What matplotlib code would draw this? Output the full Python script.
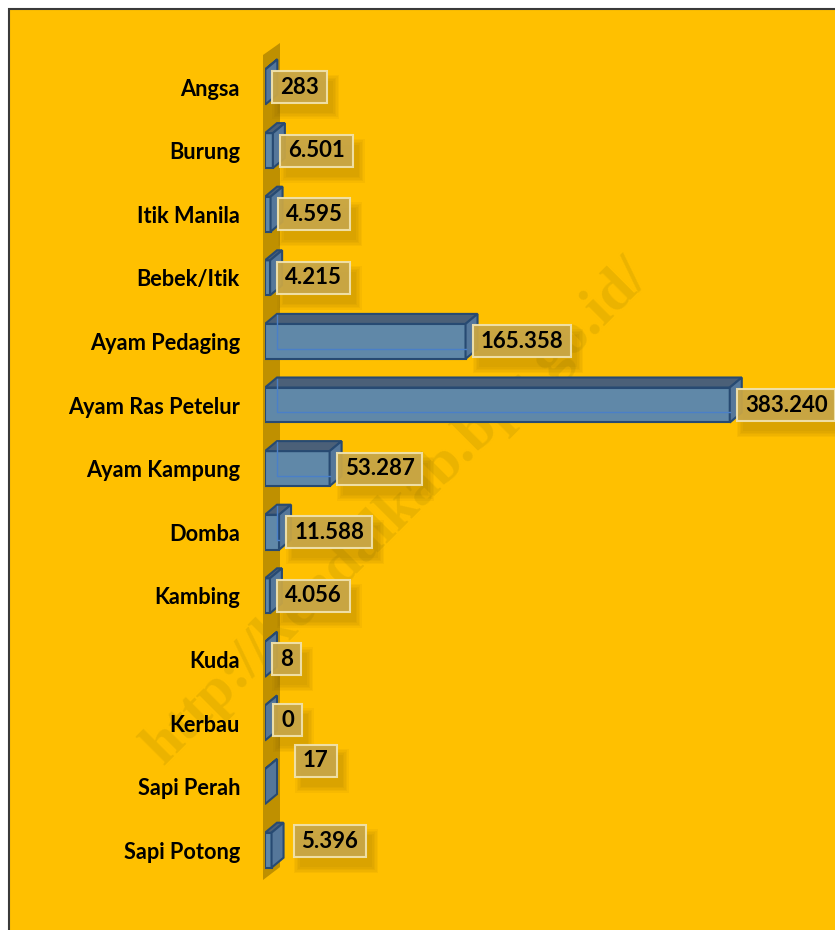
import matplotlib
matplotlib.use("Agg")
import matplotlib.pyplot as plt
from matplotlib.patches import Rectangle, Polygon
from matplotlib.transforms import IdentityTransform

# ---- data ----
categories = ["Angsa", "Burung", "Itik Manila", "Bebek/Itik", "Ayam Pedaging",
              "Ayam Ras Petelur", "Ayam Kampung", "Domba", "Kambing", "Kuda",
              "Kerbau", "Sapi Perah", "Sapi Potong"]
values = [283, 6501, 4595, 4215, 165358, 383240, 53287, 11588, 4056, 8, 0, 17, 5396]
watermark = "http://kendalkab.bps.go.id/"

# ---- style ----
W, H = 835, 930
DPI = 100
FONT = "Lato"
BG = "#FFC000"
WALL = "#BF9000"
FRONT = "#6088A8"
TOP = "#4B6078"
SIDE = "#55779A"
EDGE = "#274A72"
BACKEDGE = "#4A7FC8"
BOXFC = "#C8A646"
BOXEC = "#F1E2AC"

fig = plt.figure(figsize=(W / DPI, H / DPI), dpi=DPI)
fig.patch.set_facecolor("white")
fig.patches.append(Rectangle((8.5 / W, -0.05), 1.1, (H - 8.5) / H + 0.05,
                             transform=fig.transFigure, facecolor=BG,
                             edgecolor="#3a3a3a", lw=1.5, zorder=-5))

ax_left_px, ax_right_px = 265, 835
ax = fig.add_axes([ax_left_px / W, 0, (ax_right_px - ax_left_px) / W, 1])
ax.set_facecolor("none")
XMAX = 470000
ax.set_xlim(0, XMAX)
y_first_px, step_px = 87, 63.6
ax.set_ylim((H - y_first_px) / step_px, -y_first_px / step_px)
for s in ax.spines.values():
    s.set_visible(False)
ax.set_xticks([])

px_x = XMAX / (ax_right_px - ax_left_px)   # data units per pixel (x)
px_y = 1 / step_px                          # data units per pixel (y)

# watermark (behind bars)
ax.text(397 / W, 1 - 512 / H, watermark, transform=fig.transFigure, rotation=45,
        ha="center", va="center", fontsize=43, family="Liberation Serif",
        weight="bold", color="#EBB300", zorder=1, clip_on=False)

# back wall
def py(p):
    return (p - y_first_px) / step_px
wall = Polygon([(-2 * px_x, py(880)), (-2 * px_x, py(55)),
                (15 * px_x, py(43)), (15 * px_x, py(867))],
               closed=True, facecolor=WALL, edgecolor="none", clip_on=False, zorder=2)
ax.add_patch(wall)

ys = list(range(len(categories)))
hh = 0.275
dx = 12 * px_x
dy = 10 * px_y
bars = ax.barh(ys, values, height=2 * hh, color=FRONT, edgecolor=EDGE, lw=1.5, zorder=4)
for y, v in zip(ys, values):
    top = Polygon([(0, y - hh), (v, y - hh), (v + dx, y - hh - dy), (dx, y - hh - dy)],
                  closed=True, facecolor=TOP, edgecolor=EDGE, lw=1.5, zorder=4)
    side = Polygon([(v, y - hh), (v, y + hh), (v + dx, y + hh - dy), (v + dx, y - hh - dy)],
                   closed=True, facecolor=SIDE, edgecolor=EDGE, lw=1.5, zorder=4)
    ax.add_patch(top)
    ax.add_patch(side)
    if v > dx:
        ax.plot([dx, dx, v], [y - hh - dy + 0.02, y + hh - dy, y + hh - dy],
                color=BACKEDGE, lw=1.0, zorder=4.5)

ax.set_yticks(ys)
ax.set_yticklabels(categories, fontsize=15.7, fontweight="bold", family=FONT)
ax.tick_params(axis="y", length=0, pad=25 * 0.72)

# value labels
offsets = {"Sapi Perah": (30, 26), "Sapi Potong": (22, 9), "Kerbau": (8, 3)}
PADX = 8
texts = []
for cat, y, v in zip(categories, ys, values):
    ox, oy = offsets.get(cat, (7, 0))
    lab = f"{v:,}".replace(",", ".")
    t = ax.annotate(lab, xy=(v, y), xytext=((ox + PADX) * 0.72, oy * 0.72),
                    textcoords="offset points", ha="left", va="center",
                    fontsize=16, fontweight="bold", family=FONT, color="black",
                    zorder=7, annotation_clip=False)
    texts.append(t)

fig.canvas.draw()
r = fig.canvas.get_renderer()
for t in texts:
    bb = t.get_window_extent(r)
    cy = (bb.y0 + bb.y1) / 2
    bx, bw, bh = bb.x0 - PADX, bb.width + 2 * PADX, 32
    by = cy - bh / 2
    for k in range(5):
        e = 3 * k
        ax.add_patch(Rectangle((bx + 6 - e / 2, by - 10 - e / 2), bw + e, bh + e,
                               transform=IdentityTransform(), facecolor="#7a5800",
                               edgecolor="none", alpha=0.06, zorder=5, clip_on=False))
    ax.add_patch(Rectangle((bx, by), bw, bh, transform=IdentityTransform(),
                           facecolor=BOXFC, edgecolor=BOXEC, lw=1.5, alpha=0.95,
                           zorder=6, clip_on=False))

fig.savefig("out.png", dpi=DPI)
